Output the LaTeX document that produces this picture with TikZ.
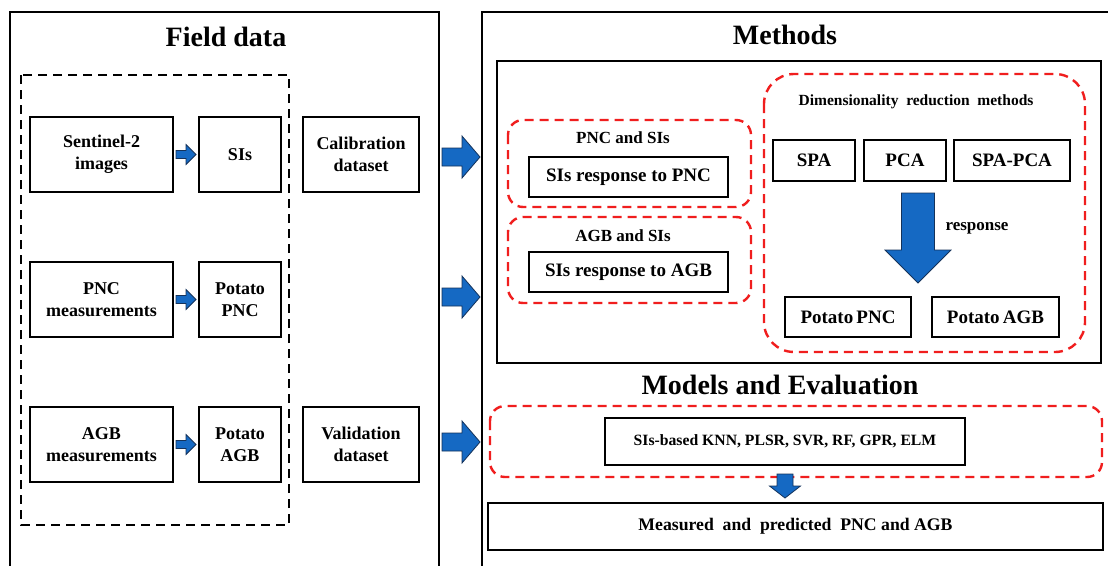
\documentclass[tikz,border=0pt]{standalone}
\usepackage{fontspec}
\setmainfont{Liberation Serif}
\usetikzlibrary{calc}
\definecolor{arrowblue}{RGB}{21,105,195}
\definecolor{arrowedge}{RGB}{20,50,90}
\definecolor{dashred}{RGB}{240,30,30}
\newcommand{\fsz}[2]{\fontsize{#1}{#2}\selectfont\bfseries}
% block arrow pointing along +x, centred at #1: half length #2, shaft half #3, head half #4, head length #5, rotation #6
\newcommand{\blockarrow}[6]{%
  \begin{scope}[shift={(#1)},rotate=#6]
    \filldraw[barrow] (-#2,-#3) -- ({#2-#5},-#3) -- ({#2-#5},-#4) -- (#2,0) -- ({#2-#5},#4) -- ({#2-#5},#3) -- (-#2,#3) -- cycle;
  \end{scope}}
\begin{document}
\begin{tikzpicture}[x=1pt,y=-1pt,
  box/.style={draw, line width=2pt, align=center, inner sep=0pt, font=\fsz{18}{22}},
  mbox/.style={box, font=\fsz{19}{22}},
  outerbox/.style={draw, line width=2.4pt},
  reddash/.style={draw=dashred, line width=2.4pt, dash pattern=on 9pt off 6pt},
  blackdash/.style={draw, line width=2pt, dash pattern=on 9pt off 6pt},
  title/.style={font=\fsz{28}{30}},
  label/.style={font=\fsz{17}{19}},
  barrow/.style={fill=arrowblue, draw=arrowedge, line width=0.8pt, line join=miter}]
\useasboundingbox (0,0) rectangle (1108,565);
\clip (0,0) rectangle (1108,565);
\fill[white] (0,0) rectangle (1108,565);

% ---------- Field data ----------
\draw[outerbox] (10,12) rectangle (439,590);
\node[title] (tfield) at (226,37) {Field data};
\draw[blackdash] (21,75) rectangle (289,525);

\node[box, minimum width=143, minimum height=75] (sent) at (101.5,154.5) {Sentinel-2\\images};
\node[box, minimum width=82, minimum height=75] (sis) at (240,154.5) {SIs};
\node[box, minimum width=116, minimum height=75] (calib) at (361,154.5) {Calibration\\dataset};

\node[box, minimum width=143, minimum height=75] (pncm) at (101.5,299.5) {PNC\\measurements};
\node[box, minimum width=82, minimum height=75] (ppnc) at (240,299.5) {Potato\\PNC};

\node[box, minimum width=143, minimum height=75] (agbm) at (101.5,444.5) {AGB\\measurements};
\node[box, minimum width=82, minimum height=75] (pagb) at (240,444.5) {Potato\\AGB};
\node[box, minimum width=116, minimum height=75] (valid) at (361,444.5) {Validation\\dataset};

\coordinate (s1) at ($(sent.east)!0.5!(sis.west)$);
\coordinate (s2) at ($(pncm.east)!0.5!(ppnc.west)$);
\coordinate (s3) at ($(agbm.east)!0.5!(pagb.west)$);
\blockarrow{s1}{10}{4}{10}{10}{0}
\blockarrow{s2}{10}{4}{10}{10}{0}
\blockarrow{s3}{10}{4}{10}{10}{0}

\coordinate (b1) at (461,157);
\coordinate (b2) at (461,297);
\coordinate (b3) at (461,442);
\blockarrow{b1}{19}{9}{21}{18}{0}
\blockarrow{b2}{19}{9}{21}{18}{0}
\blockarrow{b3}{19}{9}{21}{18}{0}

% ---------- Methods ----------
\draw[outerbox] (482,12) rectangle (1130,590);
\node[title] (tmeth) at (785,35) {Methods};
\draw[line width=2.2pt] (497,61) rectangle (1101,363);

\draw[reddash, rounded corners=15pt] (508,120) rectangle (751,207);
\node[label] (lpnc) at (623,138) {PNC and SIs};
\node[mbox, minimum width=199, minimum height=40] (rpnc) at (628.5,177) {SIs response to PNC};

\draw[reddash, rounded corners=15pt] (508,217) rectangle (751,303);
\node[label] (lagb) at (623,236) {AGB and SIs};
\node[mbox, minimum width=199, minimum height=40] (ragb) at (628.5,272) {SIs response to AGB};

\draw[reddash, rounded corners=30pt] (764,74) rectangle (1085,352);
\node[font=\fsz{15.5}{17}] (ldim) at (916,102) {Dimensionality\ \ reduction\ \ methods};
\node[mbox, minimum width=82, minimum height=41] (spa) at (814,160) {SPA};
\node[mbox, minimum width=82, minimum height=41] (pca) at (905,160) {PCA};
\node[mbox, minimum width=116, minimum height=41] (spapca) at (1012,160) {SPA-PCA};

\coordinate (dbig) at (918,238);
\blockarrow{dbig}{45}{16.5}{33}{33}{-90}
\node[font=\fsz{17}{19}] (lresp) at (977,228) {response};

\node[mbox, minimum width=126, minimum height=40] (tpnc) at (848,317) {Potato\,PNC};
\node[mbox, minimum width=127, minimum height=40] (tagb) at (995.5,317) {Potato\,AGB};

% ---------- Models and Evaluation ----------
\node[title] (tmod) at (780,385) {Models and Evaluation};
\draw[reddash, rounded corners=15pt] (490,406) rectangle (1102,477);
\node[box, minimum width=360, minimum height=47, font=\fsz{15.7}{18}] (models) at (785,441.5) {SIs-based KNN, PLSR, SVR, RF, GPR, ELM};
\coordinate (dsmall) at (785,486);
\blockarrow{dsmall}{12}{8}{15.5}{12}{-90}
\node[box, minimum width=615, minimum height=47, font=\fsz{17.7}{20}] (meas) at (795.5,526.5) {Measured\ \ and\ \ predicted\ \ PNC\ and\ AGB};
\end{tikzpicture}
\end{document}
